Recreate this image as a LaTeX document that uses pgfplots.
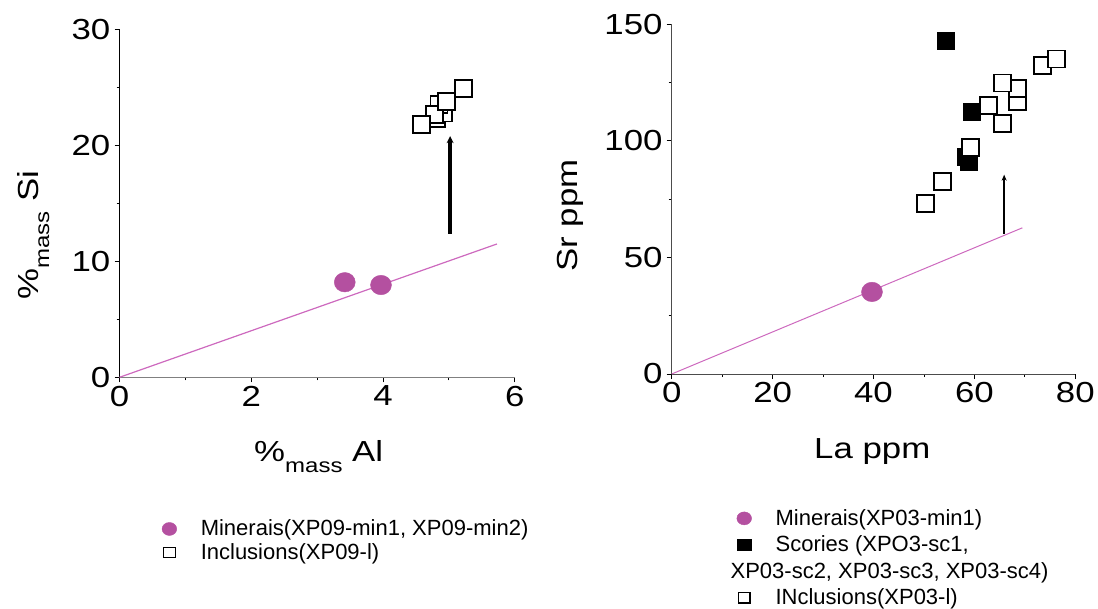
\documentclass[border=0pt]{standalone}
\usepackage{fontspec}
\setmainfont{Liberation Sans}
\usepackage{pgfplots}
\pgfplotsset{compat=1.18}
\usetikzlibrary{arrows.meta}
\definecolor{mag}{RGB}{180,80,160}
\definecolor{magline}{RGB}{205,105,190}
\pgfplotsset{
  myax/.style={
    scale only axis, axis lines=left,
    axis line style={-, line width=1pt},
    tick align=outside, major tick length=5pt, minor tick length=3pt,
    minor x tick num=1, minor y tick num=1,
    every tick/.style={line width=0.8pt, black},
    /pgf/number format/assume math mode=true,
    tick label style={font=\fontsize{29}{29}\selectfont, xscale=1.2},
    clip=false,
    legend style={draw=none, fill=none, inner sep=0pt, anchor=north west,
      font=\fontsize{22}{22}\selectfont,
      cells={anchor=west, inner sep=0pt, text height=15pt, text depth=4pt, xscale=1.13}},
  },
  mineral/.style={only marks, mark=*, mark size=10.5pt, color=mag, mark options={yscale=0.93, draw=mag, fill=mag},
    legend image code/.code={\path[draw=none, fill=none] (-9pt,-7pt) rectangle (26pt,7pt);
      \draw[mag] plot[only marks, mark=*, mark size=6.5pt, mark options={fill=mag, draw=mag}] coordinates {(0pt,0pt)};}},
  incl/.style={only marks, mark=square*, mark size=8.5pt, mark options={draw=black, fill=white, line width=1.8pt},
    legend image code/.code={\path[draw=none, fill=none] (-9pt,-7pt) rectangle (26pt,7pt);
      \draw[black] plot[only marks, mark=square*, mark size=5.2pt, mark options={fill=white, draw=black, line width=1.4pt}] coordinates {(0pt,0pt)};}},
  scor/.style={only marks, mark=square*, mark size=8.5pt, mark options={draw=black, fill=black, line width=1pt},
    legend image code/.code={\path[draw=none, fill=none] (-9pt,-7pt) rectangle (26pt,7pt);
      \draw[black] plot[only marks, mark=square*, mark size=5.8pt, mark options={fill=black, draw=black, line width=0.5pt}] coordinates {(0pt,0pt)};}},
}
\begin{document}
\begin{tikzpicture}
\path[use as bounding box] (0pt,0pt) rectangle (1098pt,-609pt);
% ---------- left ----------
\begin{axis}[myax, at={(119.5pt,-377.3pt)}, anchor=origin,
  width=395.2pt, height=347.8pt,
  xmin=0, xmax=6, ymin=0, ymax=30,
  xtick={0,2,4,6}, ytick={0,10,20,30},
  x axis line style={draw=gray},
  legend style={at={(0.100,-0.406)}, row sep=3pt},
]
\addplot[magline, line width=1.2pt, forget plot] coordinates {(0,0) (5.73,11.5)};
\addplot[black, line width=3.5pt, -{Stealth[length=7pt,width=7pt]}, forget plot] coordinates {(5.02,12.4) (5.02,20.8)};
\addplot[mineral] coordinates {(3.42,8.2) (3.97,7.96)};
\addlegendentry{Minerais(XP09-min1, XP09-min2)}
\addplot[incl] coordinates {(4.81,22.3) (4.92,22.8) (4.85,23.5) (4.78,22.7) (4.96,23.8) (4.59,21.8) (5.22,24.9)};
\addlegendentry{Inclusions(XP09-l)}
\end{axis}
% ---------- right ----------
\begin{axis}[myax, at={(671.7pt,-374pt)}, anchor=origin,
  width=403.6pt, height=349.7pt,
  xmin=0, xmax=80, ymin=0, ymax=150,
  xtick={0,20,40,60,80}, ytick={0,50,100,150},
  axis line style={draw=black!70},
  legend style={at={(0.154,-0.383)}, row sep=6pt},
]
\addplot[magline, line width=1pt, forget plot] coordinates {(0,0) (69.5,62.7)};
\addplot[black, line width=1.8pt, -{Stealth[length=6pt,width=5pt]}, forget plot] coordinates {(65.9,60) (65.9,85.5)};
\addplot[mineral] coordinates {(39.7,35.2)};
\addlegendentry{Minerais(XP03-min1)}
\addplot[scor] coordinates {(54.4,143) (59.6,112.4) (58.4,93.1) (59.0,91.0)};
\addlegendentry{Scories (XPO3-sc1,}
\addlegendimage{empty legend}
\addlegendentry{\hspace*{-45pt}XP03-sc2, XP03-sc3, XP03-sc4)}
\addplot[incl] coordinates {(50.3,73.0) (53.7,82.5) (59.2,97.0) (65.5,107.6) (62.8,115.0) (68.6,116.9) (68.6,122.3) (65.5,124.8) (73.5,132.3) (76.2,135.1)};
\addlegendentry{INclusions(XP03-l)}
\end{axis}
% ---------- axis titles ----------
\node[anchor=base west, inner sep=0pt, xscale=1.2, font=\fontsize{29}{29}\selectfont] at (254pt,-461pt)
  {\%\raisebox{-11pt}{\fontsize{20}{20}\selectfont mass} Al};
\node[rotate=90, xscale=1.2, anchor=base west, inner sep=0pt, font=\fontsize{29}{29}\selectfont] at (38pt,-300pt)
  {\%\raisebox{-11pt}{\fontsize{20}{20}\selectfont mass} Si};
\node[anchor=base west, inner sep=0pt, xscale=1.2, font=\fontsize{29}{29}\selectfont] at (814pt,-458pt) {La ppm};
\node[rotate=90, xscale=1.2, anchor=base west, inner sep=0pt, font=\fontsize{29}{29}\selectfont] at (577pt,-272pt) {Sr ppm};
\end{tikzpicture}
\end{document}
